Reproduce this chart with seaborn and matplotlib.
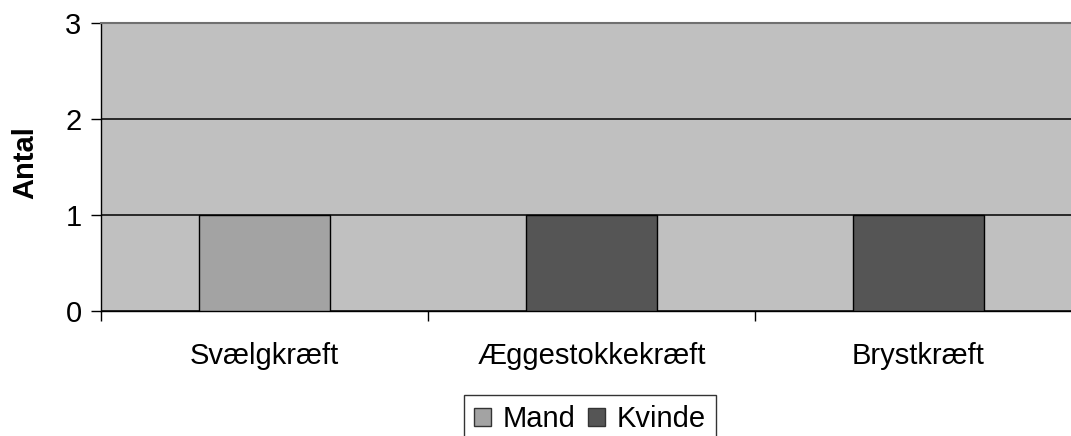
import matplotlib
matplotlib.use("Agg")
import matplotlib.pyplot as plt
import seaborn as sns
import pandas as pd
from matplotlib.patches import Patch

categories = ["Svælgkræft", "Æggestokkekræft", "Brystkræft"]
mand = [1, 0, 0]
kvinde = [0, 1, 1]
series_names = ["Mand", "Kvinde"]
y_ticks = [0, 1, 2, 3]

colors = {"Mand": "#A3A3A3", "Kvinde": "#555555"}

rows = []
for cat, m, k in zip(categories, mand, kvinde):
    rows.append({"Kategori": cat, "Køn": "Mand", "Antal": m})
    rows.append({"Kategori": cat, "Køn": "Kvinde", "Antal": k})
df = pd.DataFrame(rows)
df_plot = df[df["Antal"] > 0]

sns.set_theme(style="white")
plt.rcParams["font.family"] = ["Liberation Sans", "DejaVu Sans"]

FS = 21
W, H = 1071, 436
fig = plt.figure(figsize=(W / 100, H / 100), dpi=100)
ax = fig.add_axes([101 / W, (H - 311) / H, (1082 - 101) / W, (311 - 23) / H])
ax.set_facecolor("#C0C0C0")

sns.barplot(data=df_plot, x="Kategori", y="Antal", hue="Køn", order=categories,
            hue_order=series_names, palette=colors, dodge=False, width=0.4,
            edgecolor="black", linewidth=1.0, ax=ax, legend=False, zorder=3)

ax.set_xlim(-0.5, len(categories) - 0.5)
ax.set_ylim(0, 3)
ax.set_yticks(y_ticks)
ax.set_yticklabels([str(v) for v in y_ticks])
ax.yaxis.grid(True, color="black", linewidth=1.1, zorder=1)
ax.set_axisbelow(True)
ax.xaxis.grid(False)

ax.set_xticks(range(len(categories)))
ax.set_xticklabels(categories)
ax.set_xticks([i - 0.5 for i in range(len(categories) + 1)], minor=True)
ax.tick_params(axis="x", which="major", length=0, pad=22, labelsize=FS, colors="black")
ax.tick_params(axis="x", which="minor", length=7, width=1, direction="out", color="black", bottom=True)
ax.tick_params(axis="y", which="major", length=7, width=1, direction="out", pad=7,
               labelsize=FS, colors="black", left=True)

ax.set_xlabel("")
ax.set_ylabel("Antal", fontsize=FS, fontweight="bold", color="black")
ax.yaxis.set_label_coords(-0.063, 0.514)

for side in ["left", "bottom"]:
    ax.spines[side].set_color("black")
    ax.spines[side].set_linewidth(1.0)
ax.spines["top"].set_color("#707070")
ax.spines["top"].set_linewidth(1.5)
ax.spines["right"].set_visible(False)

handles = [Patch(facecolor=colors[s], edgecolor="#333333", linewidth=1.0, label=s) for s in series_names]
leg = fig.legend(handles=handles, loc="upper center", bbox_to_anchor=(590 / W, 1 - 395 / H),
                 ncol=2, frameon=True, fontsize=FS, handlelength=0.58, handleheight=0.58,
                 handletextpad=0.4, columnspacing=0.45, borderpad=0.35, borderaxespad=0,
                 fancybox=False)
leg.get_frame().set_edgecolor("black")
leg.get_frame().set_linewidth(1.0)
leg.get_frame().set_facecolor("white")
for t in leg.get_texts():
    t.set_color("black")

fig.savefig("out.png", dpi=100)
